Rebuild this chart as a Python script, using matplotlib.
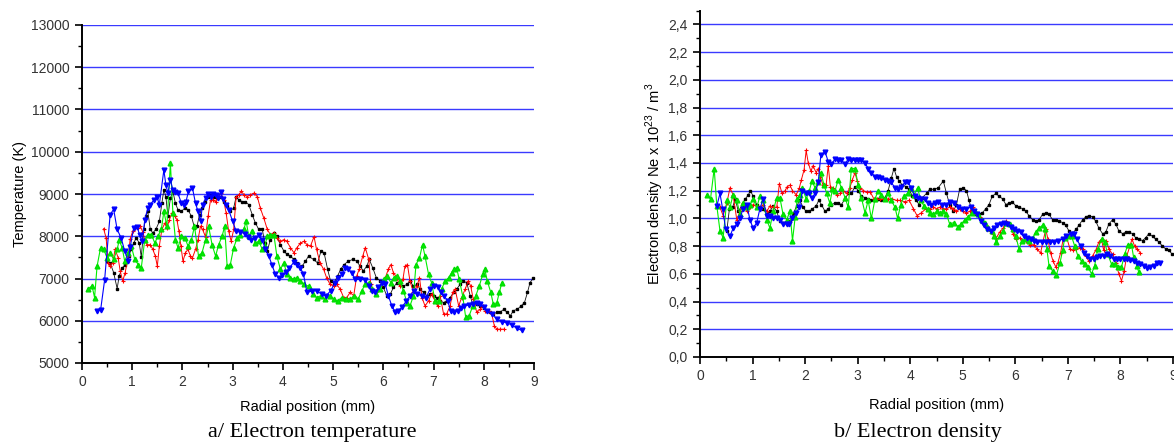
import matplotlib
matplotlib.use("Agg")
import matplotlib.pyplot as plt
from matplotlib.ticker import MultipleLocator, FuncFormatter

# ---------------- Electron temperature (K) vs radial position (mm) ----------------
BLACK_T_X = [0.50,0.56,0.63,0.70,0.74,0.80,0.86,0.93,0.98,1.03,
             1.08,1.14,1.18,1.23,1.27,1.31,1.36,1.41,1.47,1.54,
             1.59,1.63,1.67,1.71,1.76,1.81,1.86,1.91,1.98,2.05,
             2.11,2.18,2.24,2.29,2.34,2.39,2.44,2.50,2.56,2.62,
             2.69,2.76,2.82,2.89,2.95,3.02,3.07,3.12,3.19,3.25,
             3.32,3.39,3.45,3.52,3.59,3.64,3.69,3.75,3.82,3.88,
             3.95,4.02,4.08,4.15,4.22,4.28,4.38,4.45,4.51,4.61,
             4.69,4.76,4.82,4.89,4.95,5.02,5.09,5.15,5.22,5.30,
             5.39,5.47,5.54,5.60,5.67,5.72,5.79,5.86,5.94,6.00,
             6.07,6.14,6.20,6.27,6.33,6.40,6.47,6.53,6.60,6.67,
             6.73,6.80,6.87,6.93,7.00,7.06,7.13,7.20,7.26,7.33,
             7.40,7.46,7.53,7.59,7.66,7.73,7.79,7.86,7.93,8.00,
             8.06,8.13,8.19,8.26,8.33,8.40,8.46,8.53,8.59,8.67,
             8.74,8.81,8.87,8.92,8.99]
BLACK_T_Y = [7410,7370,7140,6760,7060,7250,7330,7530,7690,7840,
             7960,7840,7510,8160,8470,8590,8160,8080,8160,8350,
             8780,9100,8940,8470,8900,9060,8780,8630,8590,8670,
             8630,8470,8200,8240,8510,8670,8820,8940,8980,8940,
             8900,8940,8820,8710,8590,8670,8940,8860,8820,8820,
             8750,8510,8320,8160,8160,7840,7650,7920,8080,8000,
             7800,7650,7570,7530,7450,7370,7290,7410,7530,7450,
             7370,7650,7610,7220,6940,6900,7060,7220,7330,7410,
             7450,7410,7290,7180,7290,7450,7250,7020,6940,6790,
             6590,6630,6790,6900,6860,6820,6860,6940,6820,6860,
             6750,6670,6590,6630,6590,6550,6470,6430,6470,6550,
             6670,6750,6860,6940,6900,6590,6350,6390,6350,6290,
             6240,6200,6160,6200,6210,6270,6200,6120,6240,6270,
             6350,6430,6670,6900,7020]

RED_T_X = [0.43,0.48,0.52,0.56,0.61,0.66,0.72,0.76,0.81,0.86,
           0.92,0.96,1.01,1.06,1.12,1.16,1.21,1.25,1.29,1.36,
           1.41,1.46,1.50,1.54,1.59,1.65,1.69,1.74,1.79,1.85,
           1.89,1.93,1.97,2.01,2.06,2.11,2.16,2.20,2.26,2.31,
           2.36,2.40,2.46,2.51,2.56,2.60,2.66,2.71,2.76,2.82,
           2.87,2.92,2.97,3.02,3.07,3.12,3.17,3.23,3.29,3.35,
           3.42,3.49,3.55,3.62,3.69,3.75,3.82,3.88,3.95,4.02,
           4.08,4.15,4.22,4.28,4.35,4.42,4.48,4.55,4.62,4.67,
           4.74,4.81,4.87,4.94,5.01,5.07,5.14,5.21,5.27,5.34,
           5.41,5.47,5.52,5.59,5.64,5.71,5.75,5.81,5.86,5.90,
           5.97,6.04,6.10,6.15,6.20,6.27,6.33,6.39,6.43,6.48,
           6.53,6.60,6.67,6.72,6.77,6.83,6.90,6.96,7.03,7.08,
           7.13,7.20,7.26,7.33,7.38,7.43,7.50,7.56,7.63,7.69,
           7.74,7.79,7.86,7.93,7.98,8.03,8.10,8.16,8.21,8.26,
           8.33,8.41]
RED_T_Y = [8180,7960,7370,7290,7370,7690,7490,7180,6940,7140,
           7530,7940,8120,8200,8200,8240,8100,7920,7800,7800,
           7690,7530,7290,7770,8160,8310,8200,8390,8550,8470,
           8390,8120,7770,7410,7610,7690,7530,7490,7690,7920,
           8240,8160,7990,8470,8860,8860,8820,8940,9020,8860,
           8550,8120,7880,8160,8940,8980,9060,8980,8940,8980,
           9020,8940,8670,8430,8160,8040,8080,7960,7880,7920,
           7880,7730,7610,7730,7840,7880,7800,7770,7990,7690,
           7370,7220,7020,6860,6820,6860,6750,6550,6550,6670,
           6590,7060,7220,7530,7730,7450,6860,6710,6670,6790,
           6860,7020,7220,7330,7140,7020,6820,6980,7290,7330,
           6940,6670,6820,7020,6550,6350,6470,6630,6470,6350,
           6590,6160,6160,6350,6670,6750,6350,6550,6750,6940,
           6820,6510,6200,6270,6350,6240,6240,6160,5880,5800,
           5800,5800]

GREEN_T_X = [0.12,0.20,0.25,0.30,0.37,0.43,0.50,0.56,0.63,0.70,
             0.74,0.80,0.85,0.92,0.98,1.05,1.12,1.18,1.25,1.31,
             1.38,1.45,1.51,1.58,1.63,1.69,1.76,1.81,1.86,1.91,
             1.98,2.05,2.11,2.18,2.24,2.32,2.39,2.46,2.52,2.59,
             2.66,2.72,2.79,2.84,2.89,2.95,3.02,3.09,3.15,3.22,
             3.27,3.32,3.39,3.45,3.52,3.59,3.64,3.69,3.75,3.82,
             3.88,3.95,4.02,4.08,4.15,4.22,4.28,4.35,4.42,4.51,
             4.59,4.67,4.75,4.84,4.93,5.01,5.09,5.17,5.26,5.34,
             5.42,5.50,5.57,5.64,5.71,5.77,5.86,5.94,6.02,6.08,
             6.15,6.21,6.28,6.33,6.40,6.47,6.53,6.60,6.65,6.72,
             6.78,6.83,6.90,6.96,7.03,7.10,7.16,7.23,7.30,7.36,
             7.41,7.46,7.51,7.58,7.64,7.71,7.78,7.84,7.91,7.98,
             8.02,8.07,8.14,8.19,8.26,8.31,8.36]
GREEN_T_Y = [6760,6820,6550,7290,7730,7690,7490,7610,7450,7690,
             7900,7730,7410,7610,7770,7450,7330,7250,7920,8040,
             8040,7840,8000,8160,8590,8240,9730,8550,7920,7730,
             8000,7960,7770,7920,8240,7530,7610,7920,8240,7800,
             7530,7800,8000,8240,7290,7310,7730,7960,8040,8160,
             8350,8000,8120,7840,7880,7690,7770,8000,8040,8040,
             7530,7220,7370,7100,7020,6980,7020,6940,6860,6820,
             6630,6550,6590,6510,6590,6510,6470,6550,6510,6510,
             6590,6510,6710,6860,6900,6750,6630,6750,6980,7060,
             6900,7020,7060,6940,6710,6430,6350,6590,7330,7490,
             7800,7530,7100,6900,6470,6470,6750,6940,7020,7140,
             7220,7250,6980,6590,6080,6120,6350,6590,6820,7100,
             7220,6940,6670,6390,6430,6670,6900]

BLUE_T_X = [0.30,0.37,0.45,0.56,0.63,0.70,0.78,0.85,0.92,0.96,
            1.03,1.10,1.15,1.20,1.25,1.31,1.36,1.43,1.49,1.54,
            1.63,1.67,1.71,1.76,1.81,1.86,1.91,1.98,2.03,2.07,
            2.12,2.20,2.26,2.31,2.36,2.40,2.46,2.51,2.56,2.60,
            2.66,2.71,2.76,2.81,2.86,2.92,3.00,3.07,3.15,3.24,
            3.31,3.37,3.45,3.52,3.59,3.65,3.72,3.78,3.85,3.92,
            3.98,4.06,4.13,4.22,4.28,4.35,4.41,4.48,4.57,4.67,
            4.77,4.86,4.95,5.04,5.10,5.17,5.24,5.30,5.37,5.44,
            5.54,5.64,5.71,5.77,5.84,5.90,5.97,6.04,6.10,6.17,
            6.24,6.30,6.37,6.46,6.53,6.61,6.68,6.76,6.85,6.93,
            7.01,7.08,7.14,7.21,7.28,7.34,7.41,7.48,7.54,7.61,
            7.70,7.78,7.86,7.93,8.00,8.06,8.16,8.26,8.36,8.46,
            8.56,8.66,8.76]
BLUE_T_Y = [6240,6250,6960,8510,8640,8160,7960,7650,7410,7750,
            8200,8220,8020,7880,8390,8670,8750,8860,8940,8750,
            9570,9215,9020,9330,9100,9040,9020,8780,8750,8820,
            9060,9140,8780,8590,8350,8750,8900,9000,8940,9000,
            8980,8900,9040,8880,8750,8630,8350,8120,8100,8060,
            7990,7920,7960,8020,7920,7690,7530,7330,7100,7020,
            7080,7150,7250,7390,7330,7250,7100,6670,6700,6710,
            6630,6590,6710,6900,7020,7100,7250,7220,7140,6980,
            6980,6970,6820,6710,6670,6790,6900,6860,6590,6350,
            6200,6240,6320,6470,6590,6710,6630,6590,6550,6750,
            6820,6810,6670,6590,6470,6240,6200,6240,6290,6350,
            6370,6390,6420,6390,6320,6240,6160,6040,5980,5950,
            5900,5820,5770]

# ---------------- Electron density (x 10^23 m^-3) vs radial position (mm) ----------------
BLACK_N_X = [0.51,0.56,0.62,0.67,0.73,0.79,0.86,0.92,0.96,1.01,
             1.08,1.14,1.20,1.27,1.33,1.39,1.46,1.52,1.58,1.65,
             1.71,1.77,1.84,1.90,1.96,2.02,2.08,2.14,2.21,2.26,
             2.31,2.38,2.44,2.50,2.57,2.63,2.69,2.76,2.82,2.88,
             2.95,3.01,3.07,3.14,3.20,3.26,3.33,3.39,3.45,3.52,
             3.58,3.64,3.69,3.74,3.79,3.85,3.92,3.98,4.04,4.11,
             4.17,4.23,4.31,4.37,4.45,4.53,4.63,4.69,4.75,4.82,
             4.88,4.94,5.01,5.07,5.12,5.18,5.25,5.31,5.37,5.44,
             5.50,5.56,5.63,5.69,5.76,5.82,5.88,5.94,6.01,6.07,
             6.14,6.20,6.26,6.33,6.39,6.45,6.52,6.58,6.64,6.71,
             6.77,6.83,6.90,6.96,7.02,7.09,7.15,7.21,7.28,7.34,
             7.40,7.47,7.53,7.59,7.66,7.72,7.78,7.85,7.91,7.97,
             8.04,8.10,8.16,8.23,8.29,8.35,8.42,8.48,8.54,8.61,
             8.67,8.73,8.80,8.86,8.92,8.99]
BLACK_N_Y = [0.91,1.07,1.08,1.14,1.05,1.09,1.14,1.17,1.20,1.16,
             1.10,1.08,1.07,1.03,1.05,1.09,1.05,0.98,0.97,0.96,
             0.98,1.03,1.09,1.13,1.08,1.05,1.05,1.07,1.09,1.13,
             1.10,1.05,1.07,1.10,1.11,1.11,1.10,1.14,1.18,1.18,
             1.23,1.20,1.16,1.15,1.14,1.13,1.13,1.14,1.13,1.15,
             1.20,1.29,1.36,1.30,1.27,1.24,1.23,1.21,1.16,1.13,
             1.10,1.15,1.18,1.21,1.21,1.22,1.27,1.18,1.10,1.05,
             1.10,1.21,1.22,1.20,1.13,1.04,1.03,1.03,1.04,1.07,
             1.10,1.16,1.18,1.16,1.14,1.10,1.11,1.12,1.09,1.08,
             1.07,1.05,1.02,0.99,0.98,0.99,1.03,1.04,1.03,0.99,
             0.99,0.98,0.97,0.95,0.91,0.89,0.92,0.95,0.99,1.01,
             1.02,1.01,0.98,0.93,0.89,0.90,0.96,0.99,0.96,0.91,
             0.89,0.90,0.90,0.89,0.86,0.85,0.84,0.86,0.89,0.87,
             0.85,0.83,0.80,0.78,0.77,0.74]

RED_N_X = [0.38,0.44,0.51,0.57,0.63,0.70,0.76,0.82,0.89,0.95,
           1.01,1.08,1.14,1.20,1.27,1.33,1.39,1.46,1.51,1.56,
           1.62,1.66,1.71,1.76,1.83,1.89,1.93,1.98,2.02,2.06,
           2.11,2.15,2.21,2.25,2.29,2.34,2.40,2.44,2.48,2.53,
           2.60,2.66,2.72,2.79,2.85,2.90,2.95,2.99,3.04,3.11,
           3.17,3.24,3.31,3.37,3.43,3.50,3.58,3.66,3.74,3.81,
           3.90,3.98,4.06,4.13,4.21,4.30,4.37,4.44,4.50,4.56,
           4.63,4.69,4.75,4.82,4.88,4.94,5.01,5.07,5.13,5.20,
           5.26,5.32,5.39,5.45,5.51,5.58,5.64,5.70,5.77,5.83,
           5.89,5.96,6.02,6.08,6.15,6.21,6.27,6.35,6.41,6.48,
           6.53,6.58,6.62,6.67,6.72,6.77,6.81,6.86,6.91,6.97,
           7.04,7.10,7.16,7.23,7.29,7.34,7.40,7.47,7.53,7.59,
           7.64,7.68,7.73,7.78,7.85,7.91,7.97,8.02,8.07,8.12,
           8.18,8.22,8.27,8.32,8.38]
RED_N_Y = [1.08,1.02,1.11,1.22,1.17,0.99,1.05,1.11,1.05,1.08,
           1.10,1.09,1.07,1.10,1.05,1.09,1.08,1.08,1.25,1.18,
           1.20,1.23,1.24,1.20,1.17,1.22,1.28,1.35,1.49,1.40,
           1.34,1.38,1.33,1.36,1.30,1.24,1.24,1.38,1.23,1.22,
           1.17,1.18,1.20,1.18,1.22,1.28,1.33,1.27,1.22,1.20,
           1.19,1.19,1.14,1.14,1.14,1.14,1.14,1.14,1.13,1.13,
           1.12,1.13,1.07,1.02,1.04,1.07,1.07,1.08,1.07,1.08,
           1.07,1.07,1.08,1.07,1.05,1.07,1.05,1.04,1.05,1.08,
           1.03,1.01,0.98,0.95,0.91,0.89,0.86,0.90,0.93,0.98,
           0.95,0.89,0.85,0.86,0.84,0.84,0.81,0.81,0.78,0.75,
           0.84,0.92,0.85,0.75,0.69,0.65,0.68,0.75,0.85,0.87,
           0.78,0.77,0.78,0.79,0.78,0.73,0.69,0.73,0.77,0.83,
           0.85,0.77,0.84,0.78,0.74,0.68,0.60,0.55,0.62,0.73,
           0.80,0.85,0.80,0.78,0.75]

GREEN_N_X = [0.13,0.20,0.27,0.32,0.38,0.44,0.51,0.57,0.63,0.70,
             0.76,0.82,0.89,0.95,1.01,1.08,1.14,1.20,1.27,1.33,
             1.39,1.46,1.52,1.58,1.65,1.71,1.76,1.81,1.85,1.90,
             1.95,2.02,2.08,2.13,2.19,2.25,2.30,2.36,2.41,2.47,
             2.52,2.57,2.63,2.69,2.76,2.82,2.88,2.95,3.01,3.07,
             3.14,3.20,3.26,3.33,3.39,3.45,3.52,3.58,3.64,3.71,
             3.76,3.82,3.88,3.95,4.01,4.07,4.14,4.20,4.26,4.33,
             4.37,4.44,4.50,4.56,4.63,4.69,4.75,4.83,4.91,4.97,
             5.04,5.10,5.17,5.23,5.29,5.36,5.42,5.48,5.55,5.59,
             5.64,5.70,5.77,5.83,5.89,5.96,6.01,6.07,6.13,6.20,
             6.26,6.33,6.39,6.45,6.52,6.56,6.60,6.64,6.71,6.78,
             6.85,6.90,6.94,7.00,7.07,7.13,7.19,7.26,7.32,7.38,
             7.45,7.51,7.57,7.64,7.70,7.76,7.83,7.89,7.95,8.02,
             8.08,8.14,8.21,8.25,8.31,8.35]
GREEN_N_Y = [1.17,1.14,1.36,1.09,0.91,0.86,1.13,1.08,1.17,1.13,
             1.03,1.11,1.08,1.10,1.14,1.08,1.16,1.13,0.99,0.93,
             1.05,1.15,1.15,1.03,0.99,1.05,0.84,1.01,1.14,1.17,
             1.22,1.14,1.20,1.27,1.22,1.26,1.33,1.24,1.18,1.11,
             1.21,1.20,1.28,1.22,1.15,1.08,1.36,1.36,1.24,1.15,
             1.04,1.13,1.00,1.14,1.20,1.17,1.14,1.18,1.13,1.08,
             1.00,1.10,1.16,1.18,1.22,1.17,1.22,1.13,1.09,1.07,
             1.04,1.03,1.05,1.04,1.05,1.03,0.96,0.97,0.94,0.96,
             0.99,1.01,1.04,1.05,1.03,0.99,0.97,0.93,0.91,0.87,
             0.83,0.87,0.91,0.97,0.96,0.92,0.87,0.78,0.84,0.85,
             0.84,0.86,0.90,0.93,0.95,0.92,0.78,0.66,0.62,0.59,
             0.68,0.77,0.86,0.87,0.87,0.80,0.73,0.69,0.67,0.65,
             0.60,0.66,0.78,0.85,0.83,0.74,0.67,0.67,0.65,0.65,
             0.74,0.81,0.81,0.72,0.66,0.61]

BLUE_N_X = [0.32,0.38,0.43,0.49,0.57,0.63,0.70,0.76,0.82,0.89,
            0.95,1.01,1.08,1.14,1.20,1.27,1.33,1.39,1.46,1.52,
            1.58,1.65,1.70,1.76,1.83,1.89,1.95,2.02,2.08,2.13,
            2.19,2.25,2.30,2.38,2.44,2.50,2.57,2.63,2.69,2.76,
            2.82,2.88,2.95,3.01,3.07,3.14,3.20,3.26,3.33,3.39,
            3.45,3.52,3.58,3.64,3.71,3.77,3.83,3.90,3.96,4.02,
            4.09,4.15,4.21,4.28,4.34,4.40,4.47,4.53,4.60,4.68,
            4.75,4.83,4.91,4.99,5.07,5.15,5.21,5.27,5.34,5.40,
            5.46,5.53,5.59,5.65,5.72,5.78,5.84,5.91,5.97,6.03,
            6.10,6.16,6.22,6.29,6.35,6.41,6.50,6.58,6.66,6.73,
            6.81,6.90,6.97,7.05,7.11,7.17,7.24,7.30,7.36,7.43,
            7.49,7.55,7.62,7.68,7.75,7.81,7.87,7.94,8.00,8.06,
            8.12,8.19,8.25,8.32,8.38,8.44,8.51,8.57,8.63,8.70,
            8.76]
BLUE_N_Y = [1.09,1.18,1.07,0.92,0.87,0.93,0.96,1.00,1.07,1.10,
            0.99,0.93,0.97,1.07,1.14,1.02,1.02,1.00,1.00,0.99,
            0.96,0.96,0.96,1.00,1.04,1.08,1.20,1.18,1.18,1.15,
            1.18,1.26,1.46,1.48,1.41,1.39,1.43,1.42,1.42,1.39,
            1.43,1.42,1.42,1.42,1.42,1.40,1.36,1.33,1.30,1.30,
            1.29,1.28,1.27,1.26,1.22,1.21,1.23,1.26,1.26,1.22,
            1.16,1.15,1.14,1.14,1.11,1.10,1.11,1.12,1.10,1.10,
            1.12,1.11,1.08,1.07,1.07,1.08,1.05,1.03,0.98,0.95,
            0.92,0.91,0.93,0.95,0.96,0.97,0.96,0.94,0.92,0.91,
            0.90,0.87,0.86,0.85,0.84,0.83,0.83,0.83,0.83,0.83,
            0.84,0.85,0.87,0.89,0.89,0.85,0.80,0.75,0.73,0.71,
            0.71,0.72,0.73,0.73,0.74,0.73,0.71,0.71,0.71,0.71,
            0.71,0.70,0.69,0.68,0.67,0.66,0.64,0.65,0.66,0.68,
            0.68]

X_TICKS = list(range(0, 10))
T_TICKS = list(range(5000, 13001, 1000))
N_TICKS = [0.0, 0.2, 0.4, 0.6, 0.8, 1.0, 1.2, 1.4, 1.6, 1.8, 2.0, 2.2, 2.4]

X_LABEL = "Radial position (mm)"
T_LABEL = "Temperature (K)"
N_LABEL = "Electron density Ne x 10$^{23}$ / m$^3$"
CAPTION_A = "a/ Electron temperature"
CAPTION_B = "b/ Electron density"

plt.rcParams["font.family"] = ["Liberation Sans", "DejaVu Sans"]
plt.rcParams["mathtext.fontset"] = "custom"
plt.rcParams["mathtext.rm"] = "Liberation Sans"

GRID_COLOR = "#3a3aff"
TICK_COLOR = "#333333"

STYLES = [
    dict(color="#111111", lw=0.6, marker="s", ms=1.6, mec="black", mfc="black"),
    dict(color="#ff0000", lw=0.7, marker="+", ms=3.0, mew=0.8),
    dict(color="#00ee00", lw=0.8, marker="^", ms=3.4, mec="#00dd00", mfc="#00ee00"),
    dict(color="#0000ff", lw=0.8, marker="v", ms=3.4, mec="#0000ff", mfc="#0000ff"),
]

fig = plt.figure(figsize=(11.74, 4.46), dpi=100)
fig.patch.set_facecolor("white")

W, H = 1174.0, 446.0
axT = fig.add_axes([82 / W, 1 - 363 / H, (534 - 82) / W, (363 - 25) / H])
axN = fig.add_axes([700 / W, 1 - 357 / H, (1173 - 700) / W, (357 - 10.5) / H])


def style_axes(ax, ylo, yhi, yminor, yticks, fmt):
    ax.set_xlim(0, 9)
    ax.set_ylim(ylo, yhi)
    ax.set_xticks(X_TICKS)
    ax.set_yticks(yticks)
    ax.xaxis.set_minor_locator(MultipleLocator(0.5))
    ax.yaxis.set_minor_locator(MultipleLocator(yminor))
    ax.yaxis.set_major_formatter(FuncFormatter(fmt))
    for side in ("top", "right"):
        ax.spines[side].set_visible(False)
    for side in ("left", "bottom"):
        ax.spines[side].set_linewidth(1.4)
        ax.spines[side].set_color("black")
    ax.tick_params(which="major", direction="out", length=5, width=1.2,
                   labelsize=10, labelcolor=TICK_COLOR, pad=4)
    ax.tick_params(which="minor", direction="out", length=3, width=1.0)
    ax.set_axisbelow(True)
    ax.yaxis.grid(True, which="major", color=GRID_COLOR, linewidth=1.0)
    ax.xaxis.grid(False)
    ax.set_facecolor("white")


style_axes(axT, 5000, 13000, 500, T_TICKS, lambda v, p: f"{int(v)}")
style_axes(axN, 0.0, 2.5, 0.1, N_TICKS,
           lambda v, p: f"{v:.1f}".replace(".", ","))

# hide the gridline sitting on the bottom spine
for ax in (axT, axN):
    gl = ax.yaxis.get_gridlines()
    if gl:
        gl[0].set_visible(False)

temp_series = [(BLACK_T_X, BLACK_T_Y), (RED_T_X, RED_T_Y),
               (GREEN_T_X, GREEN_T_Y), (BLUE_T_X, BLUE_T_Y)]
dens_series = [(BLACK_N_X, BLACK_N_Y), (RED_N_X, RED_N_Y),
               (GREEN_N_X, GREEN_N_Y), (BLUE_N_X, BLUE_N_Y)]

for (xs, ys), st in zip(temp_series, STYLES):
    axT.plot(xs, ys, clip_on=False, **st)
for (xs, ys), st in zip(dens_series, STYLES):
    axN.plot(xs, ys, clip_on=False, **st)

axT.set_xlabel(X_LABEL, fontsize=10.5, color="black")
axN.set_xlabel(X_LABEL, fontsize=10.5, color="black")
axT.xaxis.set_label_coords(0.5, -0.108)
axN.xaxis.set_label_coords(0.5, -0.118)

axT.set_ylabel(T_LABEL, fontsize=10.5, color="black")
axN.set_ylabel(N_LABEL, fontsize=10.5, color="black")
axT.yaxis.set_label_coords(-0.122, 0.5)
axN.yaxis.set_label_coords(-0.072, 0.5)

fig.text(312 / W, 1 - 432 / H, CAPTION_A, ha="center", va="center",
         fontsize=16, family=["Liberation Serif", "DejaVu Serif"])
fig.text(918 / W, 1 - 432 / H, CAPTION_B, ha="center", va="center",
         fontsize=16, family=["Liberation Serif", "DejaVu Serif"])

fig.savefig("out.png", dpi=100, facecolor="white")
